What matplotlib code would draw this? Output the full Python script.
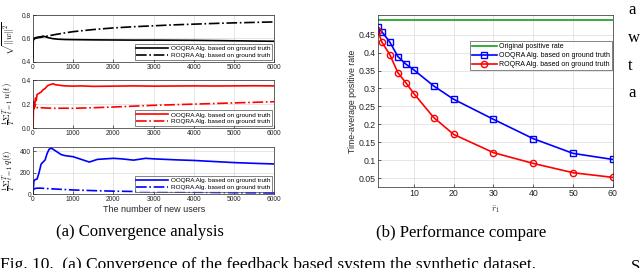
import numpy as np
import matplotlib.pyplot as plt

# ---- (a) convergence data ----
n_top = [0, 5, 20, 50, 100, 200, 250, 300, 400, 500, 600, 800, 1000, 1500, 2000, 2500, 3000, 3500, 4000, 4500, 5000, 5500, 6000]
w_oo  = [0.43, 0.58, 0.60, 0.605, 0.61, 0.615, 0.62, 0.615, 0.605, 0.598, 0.594, 0.591, 0.59, 0.588, 0.587, 0.586, 0.586, 0.585, 0.584, 0.582, 0.58, 0.578, 0.576]
n_rq  = [10, 50, 100, 200, 300, 500, 800, 1000, 1500, 2000, 2500, 3000, 3500, 4000, 4500, 5000, 5500, 6000]
w_rq  = [0.59, 0.60, 0.605, 0.61, 0.617, 0.63, 0.648, 0.658, 0.676, 0.69, 0.70, 0.708, 0.716, 0.722, 0.728, 0.733, 0.737, 0.741]

n_mid = [0, 10, 20, 40, 60, 80, 100, 150, 200, 250, 300, 350, 400, 450, 500, 550, 600, 700, 800, 1000, 1200, 1500, 2000, 2500, 3000, 3500, 4000, 4500, 5000, 5500, 6000]
u_oo  = [0.0, 0.15, 0.22, 0.19, 0.25, 0.23, 0.28, 0.29, 0.30, 0.32, 0.33, 0.35, 0.36, 0.365, 0.37, 0.362, 0.36, 0.355, 0.352, 0.35, 0.352, 0.348, 0.35, 0.352, 0.35, 0.351, 0.352, 0.351, 0.352, 0.353, 0.352]
n_mrq = [10, 20, 40, 60, 80, 100, 150, 200, 300, 500, 800, 1000, 1500, 2000, 2500, 3000, 3500, 4000, 4500, 5000, 5500, 6000]
u_rq  = [0.20, 0.16, 0.19, 0.17, 0.18, 0.17, 0.175, 0.17, 0.168, 0.165, 0.166, 0.165, 0.17, 0.176, 0.183, 0.19, 0.195, 0.2, 0.205, 0.21, 0.215, 0.22]

n_bot = [0, 20, 50, 100, 150, 200, 250, 300, 350, 400, 450, 500, 600, 700, 800, 1000, 1200, 1400, 1600, 1800, 2000, 2200, 2500, 2800, 3000, 3300, 3600, 4000, 4500, 5000, 5500, 6000]
q_oo  = [0, 120, 135, 140, 200, 280, 300, 320, 380, 420, 430, 420, 395, 370, 360, 350, 325, 300, 325, 330, 335, 330, 318, 335, 330, 325, 320, 315, 305, 295, 288, 282]
n_brq = [20, 50, 100, 200, 300, 500, 800, 1000, 1500, 2000, 2500, 3000, 4000, 5000, 6000]
q_rq  = [45, 52, 55, 55, 52, 48, 42, 38, 32, 27, 24, 21, 17, 13, 10]

# ---- (b) performance data ----
r1      = [1, 2, 4, 6, 8, 10, 15, 20, 30, 40, 50, 60]
orig    = [0.49] * len(r1)
ooqra   = [0.472, 0.458, 0.429, 0.389, 0.368, 0.352, 0.307, 0.270, 0.214, 0.160, 0.119, 0.102]
roqra   = [0.459, 0.429, 0.394, 0.344, 0.316, 0.286, 0.219, 0.172, 0.121, 0.091, 0.065, 0.052]

lab_oo = 'OOQRA Alg. based on ground truth'
lab_rq = 'ROQRA Alg. based on ground truth'

plt.rcParams['font.family'] = ['Liberation Sans', 'DejaVu Sans']
plt.rcParams['mathtext.fontset'] = 'cm'

fig = plt.figure(figsize=(6.4, 2.68), dpi=100)

def style(ax, fs=5):
    ax.tick_params(direction='in', labelsize=fs, length=2, width=0.5, colors='#262626', pad=1.5)
    ax.grid(True, color='#dcdcdc', linewidth=0.5)
    for s in ax.spines.values():
        s.set_linewidth(0.5)
        s.set_color('#262626')

axA = fig.add_axes([0.0516, 0.769, 0.377, 0.175])
axA.plot(n_top, w_oo, 'k-', lw=1.2, label=lab_oo)
axA.plot(n_rq, w_rq, 'k-.', lw=1.2, label=lab_rq)
axA.set_xlim(0, 6000); axA.set_ylim(0.4, 0.8)
axA.set_yticks([0.4, 0.6, 0.8])
axA.set_ylabel(r'$\sqrt{\|w\|^2}$', fontsize=6.5)

axB = fig.add_axes([0.0516, 0.522, 0.377, 0.179])
axB.plot(n_mid, u_oo, 'r-', lw=1.2, label=lab_oo)
axB.plot(n_mrq, u_rq, 'r-.', lw=1.2, label=lab_rq)
axB.set_xlim(0, 6000); axB.set_ylim(0, 0.4)
axB.set_yticks([0, 0.2, 0.4])
axB.set_ylabel(r'$\frac{1}{T}\Sigma_{t=1}^{T}\,u(t)$', fontsize=6.5)

axC = fig.add_axes([0.0516, 0.276, 0.377, 0.175])
axC.plot(n_bot, q_oo, 'b-', lw=1.2, label=lab_oo)
axC.plot(n_brq, q_rq, 'b-.', lw=1.2, label=lab_rq)
axC.set_xlim(0, 6000); axC.set_ylim(0, 440)
axC.set_yticks([0, 200, 400])
axC.set_ylabel(r'$\frac{1}{T}\Sigma_{t=1}^{T}\,q(t)$', fontsize=6.5)
axC.set_xlabel('The number of new users', fontsize=6.5, labelpad=1, color='#262626')

for ax in (axA, axB, axC):
    style(ax, 4.8)
    ax.set_xticks(range(0, 6001, 1000))
    ax.yaxis.set_label_coords(-0.068, 0.5)
    leg = ax.legend(loc='lower right', fontsize=4.6, frameon=True, fancybox=False,
                    borderpad=0.3, labelspacing=0.2, handlelength=5, handletextpad=0.4,
                    borderaxespad=0.3)
    leg.get_frame().set_edgecolor('#262626')
    leg.get_frame().set_linewidth(0.5)

# ---- (b) ----
axR = fig.add_axes([0.5906, 0.302, 0.367, 0.642])
axR.plot(r1, orig, '-', color='#14a014', lw=1.2, label='Original positive rate')
axR.plot(r1, ooqra, 'b-s', lw=1.2, ms=4, mfc='none', mew=1.0, label=lab_oo)
axR.plot(r1, roqra, 'r-o', lw=1.2, ms=4.5, mfc='none', mew=1.0, label=lab_rq)
axR.set_xlim(1, 60); axR.set_ylim(0.025, 0.505)
axR.set_xticks([10, 20, 30, 40, 50, 60])
axR.set_yticks([0.05, 0.1, 0.15, 0.2, 0.25, 0.3, 0.35, 0.4, 0.45])
axR.set_yticklabels(['0.05', '0.1', '0.15', '0.2', '0.25', '0.3', '0.35', '0.4', '0.45'])
style(axR, 6.3)
axR.set_ylabel('Time-average positive rate', fontsize=6.3, labelpad=1, color='#262626')
axR.set_xlabel(r'$\bar{r}_1$', fontsize=6.5, labelpad=4, color='#262626')
leg = axR.legend(loc='upper right', bbox_to_anchor=(1.01, 0.87), fontsize=5, frameon=True,
                 fancybox=False, borderpad=0.3, labelspacing=0.3, handlelength=3.5,
                 handletextpad=0.3)
leg.get_frame().set_edgecolor('#262626')
leg.get_frame().set_linewidth(0.5)

# ---- captions ----
serif = ['Liberation Serif', 'DejaVu Serif']
fig.text(140 / 640, 1 - 232 / 268, '(a) Convergence analysis', ha='center', va='center',
         fontsize=12, family=serif)
fig.text(461 / 640, 1 - 233 / 268, '(b) Performance compare', ha='center', va='center',
         fontsize=12, family=serif)
fig.text(0.0, 1 - 257 / 268, 'Fig. 10.  (a) Convergence of the feedback based system the synthetic dataset.',
         ha='left', va='top', fontsize=12.5, family=serif)
for yy, ch in zip([10, 38, 66, 93], ['a', 'w', 't', 'a']):
    fig.text(628 / 640, 1 - yy / 268, ch, ha='left', va='center', fontsize=12, family=serif)
fig.text(631 / 640, 1 - 259 / 268, 'S', ha='left', va='top', fontsize=12, family=serif)

fig.savefig('out.png', dpi=100)
